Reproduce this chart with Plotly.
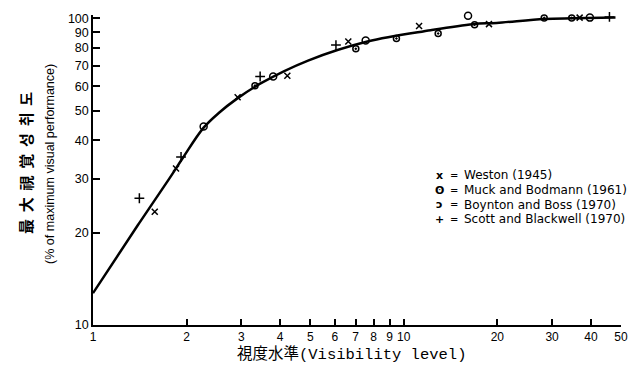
import plotly.graph_objects as go

# Fitted curve
curve_x = [1.0, 1.4, 1.76, 1.94, 2.27, 2.55, 2.9, 3.45, 4.92, 7.64, 12.2, 16.7, 19.9, 28.3, 35.0, 48.0]
curve_y = [12.7, 21.3, 30.0, 34.9, 44.0, 49.3, 54.6, 61.2, 72.8, 84.0, 91.4, 95.7, 96.6, 99.5, 100.0, 100.5]

# Data sets
weston_x = [1.58, 1.85, 2.92, 4.22, 6.63, 11.2, 18.8, 36.8]
weston_y = [23.4, 32.4, 55.3, 65.0, 84.0, 94.4, 95.7, 100.5]

muck_x = [3.32, 7.01, 9.47, 12.9, 16.9, 28.3, 34.7]
muck_y = [60.3, 79.5, 85.9, 89.2, 95.3, 100.3, 100.3]

boynton_x = [2.27, 3.80, 7.54, 16.1, 39.7]
boynton_y = [44.4, 64.6, 84.6, 101.9, 100.5]

scott_x = [1.41, 1.92, 3.45, 6.05, 45.9]
scott_y = [25.9, 35.3, 64.6, 81.8, 101.0]

x_ticks = [1, 2, 3, 4, 5, 6, 7, 8, 9, 10, 20, 30, 40, 50]
y_ticks = [10, 20, 30, 40, 50, 60, 70, 80, 90, 100]

series_names = [
    "Weston (1945)",
    "Muck and Bodmann (1961)",
    "Boynton and Boss (1970)",
    "Scott and Blackwell (1970)",
]
legend_glyphs = ["x", "ʘ", "ↄ", "+"]

fig = go.Figure()
fig.add_trace(go.Scatter(
    x=curve_x, y=curve_y, mode="lines", showlegend=False,
    line=dict(color="black", width=2.5, shape="spline", smoothing=1.0),
    hoverinfo="skip"))

styles = [
    (weston_x, weston_y, "x-thin-open", 6),
    (muck_x, muck_y, "circle-open-dot", 6),
    (boynton_x, boynton_y, "circle-open", 7),
    (scott_x, scott_y, "cross-thin-open", 7),
]
for (xs, ys, sym, sz), name in zip(styles, series_names):
    fig.add_trace(go.Scatter(
        x=xs, y=ys, mode="markers", name=name, cliponaxis=False, showlegend=False,
        marker=dict(symbol=sym, size=sz, color="black",
                    line=dict(color="black", width=1.5))))

fig.update_layout(
    width=640, height=367,
    margin=dict(l=93, r=14, t=14, b=42),
    paper_bgcolor="white", plot_bgcolor="white",
    font=dict(family="Liberation Sans, Arial, sans-serif", color="black", size=12),
    showlegend=False,
    xaxis=dict(type="log", range=[0, 1.69897], tickvals=x_ticks,
               ticktext=[str(v) for v in x_ticks],
               ticks="inside", ticklen=6, tickwidth=1.5, tickcolor="black",
               showline=True, linecolor="black", linewidth=1.5,
               showgrid=False, zeroline=False,
               tickfont=dict(size=12, color="black")),
    yaxis=dict(type="log", range=[1, 2.0107], tickvals=y_ticks,
               ticktext=[str(v) for v in y_ticks],
               ticks="inside", ticklen=7, tickwidth=1.5, tickcolor="black",
               showline=True, linecolor="black", linewidth=1.5,
               showgrid=False, zeroline=False,
               tickfont=dict(size=12.5, color="black")),
)

# legend drawn as typed text, as in the original figure (one row per series)
plot_bottom, plot_h, plot_left, plot_w = 325, 311, 93, 533
for i, (glyph, name) in enumerate(zip(legend_glyphs, series_names)):
    row_px = 175 + 14.6 * i
    ypap = (plot_bottom - row_px) / plot_h
    fig.add_annotation(
        text=glyph, showarrow=False, xref="paper", yref="paper",
        x=(443 - plot_left) / plot_w, y=ypap, xanchor="center", yanchor="middle",
        font=dict(family="DejaVu Sans", size=11, color="black", weight="bold"))
    fig.add_annotation(
        text="=", showarrow=False, xref="paper", yref="paper",
        x=(457 - plot_left) / plot_w, y=ypap, xanchor="center", yanchor="middle",
        font=dict(family="DejaVu Sans", size=10, color="black"))
    fig.add_annotation(
        text=name, showarrow=False, xref="paper", yref="paper", align="left",
        x=(465 - plot_left) / plot_w, y=ypap, xanchor="left", yanchor="middle",
        font=dict(family="DejaVu Sans", size=12, color="black"))

fig.add_annotation(
    text="最  大  視  覚  성  취  도", textangle=-90, showarrow=False,
    xref="paper", yref="paper", x=-0.1276, y=0.521, xanchor="center", yanchor="middle",
    font=dict(family="Noto Sans CJK KR", size=15, color="black", weight="bold"))
fig.add_annotation(
    text="(% of maximum visual performance)", textangle=-90, showarrow=False,
    xref="paper", yref="paper", x=-0.0807, y=0.521, xanchor="center", yanchor="middle",
    font=dict(family="Liberation Sans, Arial, sans-serif", size=12.5, color="black"))
fig.add_annotation(
    text="視度水準(Visibility level)", showarrow=False,
    xref="paper", yref="paper", x=0.49, y=-0.0965, xanchor="center", yanchor="middle",
    font=dict(family="Liberation Mono, Noto Sans CJK JP, monospace", size=15.5, color="black"))

fig.write_html("out.html", config={"displayModeBar": False},
               post_script="document.body.style.margin='0';")
